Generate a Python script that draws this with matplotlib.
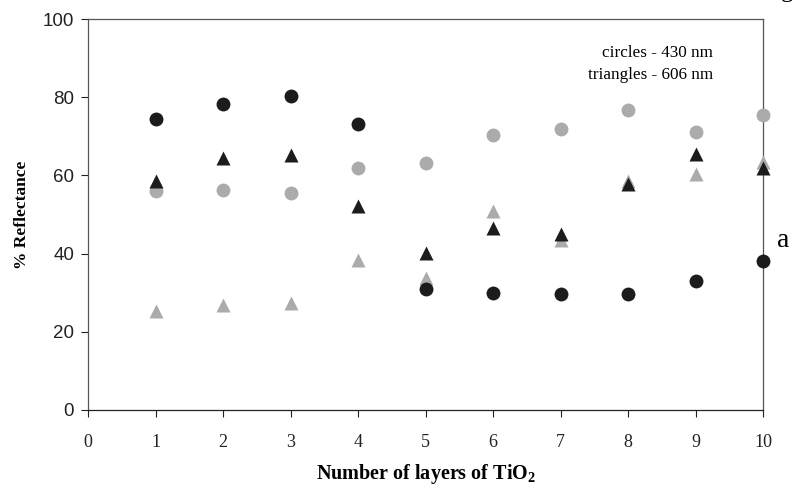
import matplotlib
matplotlib.use('Agg')
import matplotlib.pyplot as plt

# reflectance vs number of TiO2 layers
layers = [1, 2, 3, 4, 5, 6, 7, 8, 9, 10]
circ_black = [74.4, 78.3, 80.3, 73.1, 30.9, 30.0, 29.8, 29.6, 33.1, 38.1]
circ_gray = [56.0, 56.3, 55.4, 61.8, 63.1, 70.3, 71.8, 76.7, 71.0, 75.4]
tri_black = [58.6, 64.4, 65.2, 52.2, 40.1, 46.5, 45.0, 57.7, 65.5, 61.8]
tri_gray = [25.4, 26.9, 27.5, 38.5, 33.7, 51.0, 43.5, 58.5, 60.5, 63.5]

xticks = list(range(0, 11))
yticks = [0, 20, 40, 60, 80, 100]

BLACK = '#1c1c1c'
GRAY = '#ababab'
SERIF = ['Liberation Serif', 'DejaVu Serif']
SANS = ['Liberation Sans', 'DejaVu Sans']

fig = plt.figure(figsize=(8.03, 4.91), dpi=100)
ax = fig.add_axes([0.1096, 0.165, 0.8406, 0.796])

ax.plot(layers, tri_gray, '^', color=GRAY, ms=10.5, mec='none', zorder=3, clip_on=False)
ax.plot(layers, circ_gray, 'o', color=GRAY, ms=10, mec='none', zorder=3, clip_on=False)
ax.plot(layers, circ_black, 'o', color=BLACK, ms=10, mec='none', zorder=4, clip_on=False)
ax.plot(layers, tri_black, '^', color=BLACK, ms=10.5, mec='none', zorder=5, clip_on=False)

ax.set_xlim(0, 10)
ax.set_ylim(0, 100)
ax.set_xticks(xticks)
ax.set_yticks(yticks)
ax.set_xticklabels([str(v) for v in xticks], family=SERIF, fontsize=13)
ax.set_yticklabels([str(v) for v in yticks], family=SANS, fontsize=13.5)
ax.tick_params(axis='x', direction='out', length=5, width=0.8, pad=12, colors='#222222')
ax.tick_params(axis='y', direction='out', length=5, width=0.8, pad=5, colors='#222222')
for s in ax.spines.values():
    s.set_color('#555555')
    s.set_linewidth(0.9)
ax.spines['bottom'].set_color('#222222')

ax.set_xlabel('Number of layers of TiO$_\\mathregular{2}$', family=SERIF, fontsize=14.5,
              fontweight='bold', labelpad=8)
ax.set_ylabel('% Reflectance', family=SERIF, fontsize=12.5, fontweight='bold', labelpad=9)

ax.text(0.926, 0.903, 'circles - 430 nm', transform=ax.transAxes, ha='right', va='baseline',
        family=SERIF, fontsize=12.3)
ax.text(0.926, 0.847, 'triangles - 606 nm', transform=ax.transAxes, ha='right', va='baseline',
        family=SERIF, fontsize=12.3)

fig.text(0.975, 0.51, 'a', family=SERIF, fontsize=20, ha='center', va='center')
# fragment of a letter cut by the top edge, as in the source image
fig.text(0.972, 1.006, 'g', family=SERIF, fontsize=18, ha='left', va='baseline')

fig.savefig('out.png', dpi=100)
